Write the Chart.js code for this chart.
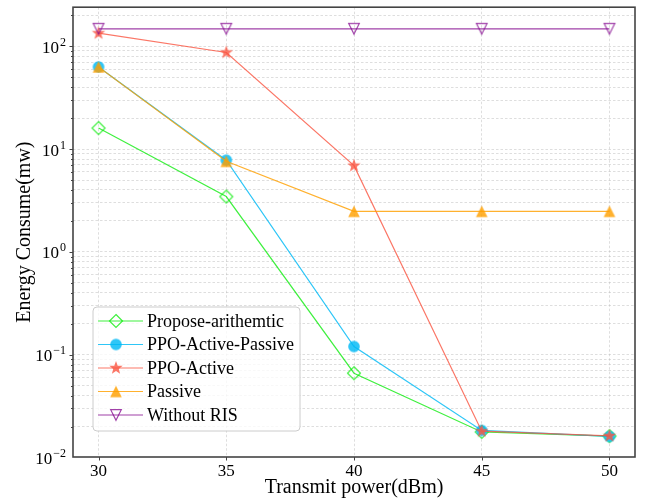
<!DOCTYPE html>
<html><head><meta charset="utf-8">
<script src="https://cdn.jsdelivr.net/npm/chart.js@4/dist/chart.umd.min.js"></script>
<style>html,body{margin:0;padding:0;background:#fff}#wrap{width:650px;height:503px}</style>
</head><body><div id="wrap"><canvas id="c" width="650" height="503"></canvas></div>
<script>
// ---- data ----
const powers = [30, 35, 40, 45, 50];
const proposeArith = [16.0, 3.45, 0.066, 0.0177, 0.0161];
const ppoActivePassive = [63, 7.8, 0.12, 0.0183, 0.016];
const ppoActive = [134, 87, 6.9, 0.018, 0.0162];
const passive = [63, 7.6, 2.48, 2.48, 2.48];
const withoutRIS = [148, 148, 148, 148, 148];
const seriesNames = ['Propose-arithemtic', 'PPO-Active-Passive', 'PPO-Active', 'Passive', 'Without RIS'];
const xTicks = [30, 35, 40, 45, 50];
const yDecades = [0.01, 0.1, 1, 10, 100];
const yExponents = ['\u22122', '\u22121', '0', '1', '2'];
const xTitle = 'Transmit power(dBm)';
const yTitle = 'Energy Consume(mw)';

const FONT = "'Liberation Serif', 'Times New Roman', serif";
const colors = [
  'rgba(0,235,0,0.75)',
  'rgba(0,185,245,0.82)',
  'rgba(250,85,65,0.8)',
  'rgba(255,160,0,0.82)',
  'rgba(130,0,140,0.75)'
];

function makeMarker(kind, color) {
  const c = document.createElement('canvas');
  c.width = 20; c.height = 20;
  const g = c.getContext('2d');
  g.translate(10, 10);
  g.lineWidth = 1.2;
  g.strokeStyle = color; g.fillStyle = color;
  g.beginPath();
  if (kind === 'diamond') {
    const r = 6.5;
    g.moveTo(0, -r); g.lineTo(r, 0); g.lineTo(0, r); g.lineTo(-r, 0); g.closePath();
    g.stroke();
  } else if (kind === 'circle') {
    g.arc(0, 0, 5.8, 0, Math.PI * 2); g.fill();
  } else if (kind === 'star') {
    const R = 7, rr = 2.9;
    for (let i = 0; i < 10; i++) {
      const a = -Math.PI / 2 + i * Math.PI / 5;
      const rad = i % 2 ? rr : R;
      const px = Math.cos(a) * rad, py = Math.sin(a) * rad;
      i ? g.lineTo(px, py) : g.moveTo(px, py);
    }
    g.closePath(); g.fill();
  } else if (kind === 'tri') {
    const s = 5.8;
    g.moveTo(0, -s); g.lineTo(s, s); g.lineTo(-s, s); g.closePath(); g.fill();
  } else if (kind === 'trid') {
    const s = 5.3;
    g.moveTo(0, s); g.lineTo(s, -s); g.lineTo(-s, -s); g.closePath(); g.stroke();
  }
  return c;
}
const markers = [
  makeMarker('diamond', colors[0]),
  makeMarker('circle', colors[1]),
  makeMarker('star', colors[2]),
  makeMarker('tri', colors[3]),
  makeMarker('trid', colors[4])
];
const seriesValues = [proposeArith, ppoActivePassive, ppoActive, passive, withoutRIS];

const yTickValues = [];
for (let e = -2; e <= 2; e++) {
  for (let m = 1; m <= 9; m++) {
    const v = m * Math.pow(10, e);
    if (v >= 0.0101 && v <= 240) yTickValues.push(v);
  }
}

const datasets = seriesValues.map((vals, i) => ({
  label: seriesNames[i],
  data: powers.map((p, j) => ({ x: p, y: vals[j] })),
  borderColor: colors[i],
  borderWidth: 1.2,
  pointStyle: markers[i],
  pointRadius: 6,
  fill: false,
  tension: 0,
  order: 5 - i
}));

const decorPlugin = {
  id: 'decor',
  afterDraw(chart) {
    const ctx = chart.ctx;
    const a = chart.chartArea;
    const ys = chart.scales.y, xs = chart.scales.x;
    ctx.save();
    // ticks
    ctx.strokeStyle = '#444'; ctx.lineWidth = 1;
    ctx.beginPath();
    yTickValues.forEach(v => {
      const y = Math.round(ys.getPixelForValue(v)) + 0.5;
      const major = yDecades.some(d => Math.abs(d - v) / d < 1e-9);
      ctx.moveTo(a.left, y); ctx.lineTo(a.left - (major ? 3.5 : 2), y);
    });
    xTicks.forEach(v => {
      const x = Math.round(xs.getPixelForValue(v)) + 0.5;
      ctx.moveTo(x, a.bottom); ctx.lineTo(x, a.bottom + 3.5);
    });
    ctx.stroke();
    // frame
    ctx.strokeStyle = '#444'; ctx.lineWidth = 1.6;
    ctx.strokeRect(a.left, a.top, a.right - a.left, a.bottom - a.top);
    // y tick labels with superscripts
    ctx.fillStyle = '#000';
    ctx.textBaseline = 'alphabetic';
    yDecades.forEach((d, i) => {
      const y = ys.getPixelForValue(d);
      const right = a.left - 7;
      ctx.font = '12px ' + FONT;
      const ew = ctx.measureText(yExponents[i]).width;
      ctx.textAlign = 'left';
      ctx.font = '17px ' + FONT;
      const bw = ctx.measureText('10').width;
      const bx = right - ew - bw - 1;
      ctx.fillText('10', bx, y + 6.5);
      ctx.font = '12px ' + FONT;
      ctx.fillText(yExponents[i], bx + bw + 1, y - 0.5);
    });
    // legend
    const lx = 93, ly = 307, lw = 207, lh = 124;
    ctx.beginPath();
    if (ctx.roundRect) ctx.roundRect(lx, ly, lw, lh, 4); else ctx.rect(lx, ly, lw, lh);
    ctx.fillStyle = 'rgba(255,255,255,0.8)';
    ctx.fill();
    ctx.strokeStyle = '#cccccc'; ctx.lineWidth = 1;
    ctx.stroke();
    ctx.font = '18px ' + FONT;
    ctx.textAlign = 'left'; ctx.textBaseline = 'middle';
    seriesNames.forEach((name, i) => {
      const ry = 321 + i * 23.5;
      ctx.strokeStyle = colors[i]; ctx.lineWidth = 1.2;
      ctx.beginPath(); ctx.moveTo(98, ry); ctx.lineTo(143, ry); ctx.stroke();
      ctx.drawImage(markers[i], 116 - 10, ry - 10);
      ctx.fillStyle = '#000';
      ctx.fillText(name, 147, ry + 1);
    });
    ctx.restore();
  }
};

new Chart(document.getElementById('c'), {
  type: 'line',
  data: { datasets },
  options: {
    responsive: false,
    animation: false,
    devicePixelRatio: 1,
    layout: { padding: { top: 6, right: 15, left: 0, bottom: 0 } },
    plugins: { legend: { display: false }, tooltip: { enabled: false } },
    scales: {
      x: {
        type: 'linear', min: 29, max: 51,
        afterBuildTicks(s) { s.ticks = xTicks.map(v => ({ value: v })); },
        afterFit(s) { s.height = 46; },
        ticks: { color: '#000', font: { family: FONT, size: 17 }, padding: 4, callback: v => String(v) },
        grid: { color: 'rgba(190,190,190,0.5)', lineWidth: 1, drawTicks: false },
        border: { display: false, dash: [2.5, 2] },
        title: { display: true, text: xTitle, color: '#000', font: { family: FONT, size: 20 }, padding: { top: 0, bottom: 3 } }
      },
      y: {
        type: 'logarithmic', min: 0.0101, max: 240,
        afterBuildTicks(s) { s.ticks = yTickValues.map(v => ({ value: v })); },
        afterFit(s) { s.width = 73; },
        ticks: { display: false },
        grid: { color: 'rgba(190,190,190,0.5)', lineWidth: 1, drawTicks: false },
        border: { display: false, dash: [2.5, 2] },
        title: { display: true, text: yTitle, color: '#000', font: { family: FONT, size: 20 }, padding: { top: 13, bottom: 0 } }
      }
    }
  },
  plugins: [decorPlugin]
});
</script>
</body></html>
